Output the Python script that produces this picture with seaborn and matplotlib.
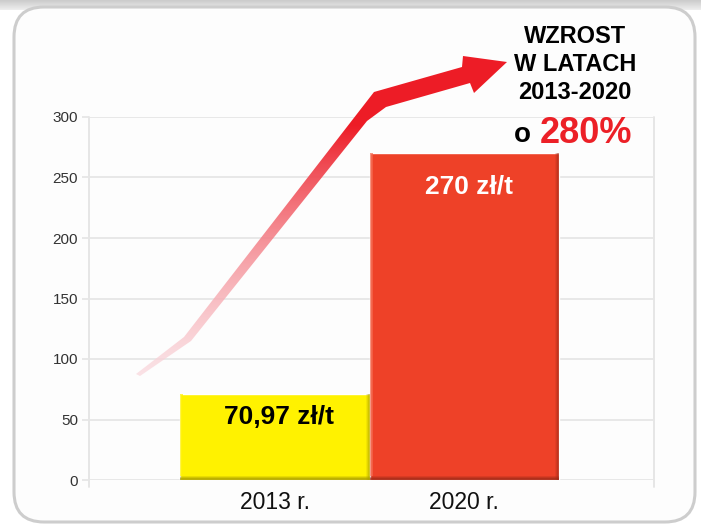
import matplotlib
matplotlib.use('Agg')
import numpy as np
import seaborn as sns
import matplotlib.pyplot as plt
from matplotlib.patches import FancyBboxPatch, Polygon, Rectangle
from matplotlib.lines import Line2D

# ---- data ----
categories = ['2013 r.', '2020 r.']
values = [70.97, 270]
bar_labels = ['70,97 zł/t', '270 zł/t']
bar_colors = ['#fff200', '#ee4128']
label_colors = ['#000000', '#ffffff']
yticks = [0, 50, 100, 150, 200, 250, 300]
title_lines = ['WZROST', 'W LATACH', '2013-2020']
growth_prefix = 'o'
growth_label = '280%'

sns.set_theme(style='white')
plt.rcParams['font.family'] = ['Liberation Sans', 'DejaVu Sans']

W, H = 701, 529
fig = plt.figure(figsize=(W / 100, H / 100), dpi=100)
fig.patch.set_facecolor('white')

# ---- background panel ----
bg = fig.add_axes([0, 0, 1, 1], zorder=0)
bg.set_xlim(0, W); bg.set_ylim(H, 0); bg.axis('off')
band = np.linspace(0.80, 0.93, 10).reshape(-1, 1) * np.ones((1, 2))
bg.imshow(np.dstack([band, band, band]), extent=(0, W, 10, 0), aspect='auto')
bg.add_patch(Rectangle((0, 10), W, H, fc='white', ec='none'))
bg.add_patch(FancyBboxPatch((14, 7), 681, 515, boxstyle='round,pad=0,rounding_size=30',
                            fc='#fdfdfd', ec='#cdcdcd', lw=2.2))
bg.set_xlim(0, W); bg.set_ylim(H, 0)

# ---- main chart ----
ax = fig.add_axes([89 / W, 1 - 480 / H, (654 - 89) / W, (480 - 117) / H], zorder=1)
ax.set_facecolor('none')
sns.barplot(x=categories, y=values, hue=categories, palette=bar_colors, width=1.0,
            saturation=1, legend=False, ax=ax, zorder=2)
ax.set_xlim(-0.98, 2.0)
ax.set_ylim(0, 300)
ax.set_yticks(yticks)
ax.yaxis.grid(True, color='#e6e6e6', lw=1.3)
ax.xaxis.grid(False)
ax.set_axisbelow(True)
for s in ax.spines.values():
    s.set_visible(False)
for xa in (0, 1):
    ax.add_line(Line2D([xa, xa], [-0.02, 1], transform=ax.transAxes, color='#e4e4e4',
                       lw=1.3, clip_on=False, zorder=0))
ax.tick_params(axis='y', left=True, length=5, width=1.3, color='#e6e6e6',
               labelsize=11, labelcolor='#333333', pad=3)
ax.tick_params(axis='x', bottom=False, length=0, labelsize=16.5, labelcolor='#111111', pad=8)
ax.set_xlabel(''); ax.set_ylabel('')

# bar shading and labels
px_x = 189.0   # pixels per x unit
px_y = 363 / 300.0
shade = ['#a89c00', '#9e2a18']
light = ['#fff200', '#f46a50']
for i, p in enumerate(ax.patches[:len(values)]):
    x0, w, h = p.get_x(), p.get_width(), p.get_height()
    for k, a in enumerate([0.25, 0.35, 0.5]):
        ax.add_patch(Rectangle((x0, 0), w, (4 - k) / px_y, fc=shade[i], ec='none', alpha=a, zorder=3))
        ax.add_patch(Rectangle((x0 + w - (4 - k) / px_x, 0), (4 - k) / px_x, h,
                               fc=shade[i], ec='none', alpha=a * 0.6, zorder=3))
    ax.add_patch(Rectangle((x0, 4 / px_y), 3 / px_x, h - 4 / px_y, fc=light[i], ec='none',
                           alpha=0.7, zorder=3))
    off = 21.6 if i == 0 else 28.8
    ax.annotate(bar_labels[i], xy=(x0 + w / 2, h), xytext=(3, -off), textcoords='offset points',
                ha='center', va='baseline', fontsize=19, fontweight='bold',
                color=label_colors[i], zorder=4)

# ---- overlay: arrow and text ----
ov = fig.add_axes([0, 0, 1, 1], zorder=3)
ov.set_facecolor('none')
ov.axis('off')
pts = [(136, 374), (184, 337), (374, 92), (462, 67), (463, 56), (507, 62),
       (474, 93), (470, 83), (386, 107), (367, 121), (191, 341), (140, 376)]
poly = Polygon(pts, closed=True, fc='none', ec='none')
ov.add_patch(poly)
yy = np.arange(H).reshape(-1, 1) * np.ones((1, W))
t = np.clip((375 - yy) / (375 - 125), 0, 1) ** 1.25
c0 = np.array([0.98, 0.85, 0.87, 0.75])
c1 = np.array([0.93, 0.11, 0.15, 1.0])
img = c0[None, None, :] * (1 - t[..., None]) + c1[None, None, :] * t[..., None]
im = ov.imshow(img, extent=(0, W, H, 0), aspect='auto', zorder=1)
im.set_clip_path(poly)
ov.set_xlim(0, W); ov.set_ylim(H, 0)

for line, yb in zip(title_lines, [43, 71, 99]):
    ov.text(575, yb, line, ha='center', va='baseline', fontsize=17, fontweight='bold', color='black')
ov.text(514, 142, growth_prefix, ha='left', va='baseline', fontsize=20, fontweight='bold', color='black')
ov.text(540, 143, growth_label, ha='left', va='baseline', fontsize=26, fontweight='bold', color='#ec2027')

fig.savefig('out.png', dpi=100)
